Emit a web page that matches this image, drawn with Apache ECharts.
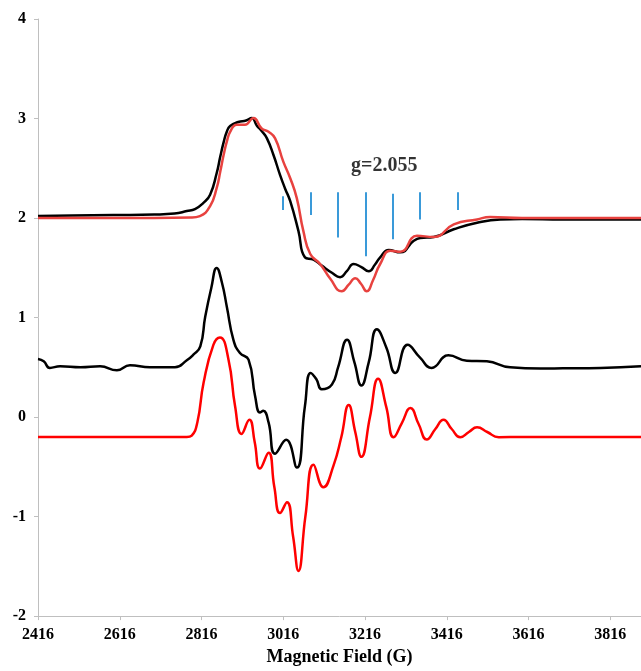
<!DOCTYPE html>
<html>
<head>
<meta charset="utf-8">
<script src="https://cdn.jsdelivr.net/npm/echarts@6/dist/echarts.min.js"></script>
<style>html,body{margin:0;padding:0;background:#fff}#c{width:641px;height:671px}</style>
</head>
<body>
<div id="c"></div>
<script>
// Top experimental (black)
var expTopX = [2416, 2500, 2600, 2700, 2750, 2780, 2800, 2820, 2837, 2853, 2862, 2870, 2878, 2886, 2906, 2925, 2939, 2951, 2964, 2976, 2992, 3008, 3020, 3033, 3053, 3069, 3090, 3110, 3135, 3155, 3172, 3188, 3206, 3225, 3240, 3253, 3274, 3302, 3335, 3351, 3384, 3433, 3490, 3547, 3600, 3700, 3800, 3891];
var expTopY = [2.02, 2.025, 2.03, 2.035, 2.045, 2.07, 2.09, 2.15, 2.235, 2.45, 2.62, 2.76, 2.87, 2.925, 2.965, 2.98, 3.005, 2.931, 2.87, 2.80, 2.633, 2.434, 2.30, 2.169, 1.871, 1.605, 1.582, 1.522, 1.45, 1.406, 1.47, 1.538, 1.51, 1.466, 1.53, 1.605, 1.678, 1.655, 1.771, 1.80, 1.81, 1.887, 1.953, 1.986, 1.99, 1.985, 1.985, 1.985];
// Top simulated (red)
var simTopX = [2416, 2700, 2790, 2812, 2837, 2853, 2862, 2870, 2878, 2886, 2902, 2922, 2943, 2963, 2980, 2996, 3016, 3033, 3049, 3065, 3082, 3106, 3131, 3159, 3176, 3192, 3206, 3220, 3236, 3253, 3278, 3302, 3343, 3384, 3433, 3490, 3522, 3600, 3891];
var simTopY = [2.0, 2.0, 2.005, 2.02, 2.12, 2.30, 2.47, 2.633, 2.77, 2.866, 2.938, 2.938, 3.005, 2.90, 2.866, 2.80, 2.567, 2.40, 2.20, 1.871, 1.638, 1.538, 1.389, 1.264, 1.33, 1.396, 1.34, 1.264, 1.38, 1.538, 1.672, 1.661, 1.821, 1.81, 1.936, 1.986, 2.01, 2.0, 2.0];
// Middle experimental (black)
var expMidX = [2416, 2430, 2445, 2470, 2520, 2568, 2609, 2641, 2690, 2751, 2780, 2796, 2813, 2825, 2840, 2853, 2866, 2878, 2894, 2910, 2931, 2947, 2959, 2967, 2980, 2996, 3023, 3049, 3069, 3083, 3097, 3110, 3135, 3150, 3172, 3190, 3207, 3225, 3245, 3268, 3290, 3320, 3350, 3379, 3420, 3465, 3514, 3571, 3645, 3700, 3792, 3891];
var expMidY = [0.583, 0.56, 0.494, 0.51, 0.50, 0.51, 0.47, 0.52, 0.50, 0.50, 0.57, 0.627, 0.71, 1.008, 1.3, 1.499, 1.35, 1.107, 0.776, 0.643, 0.577, 0.212, 0.046, 0.063, -0.054, -0.368, -0.229, -0.508, 0.112, 0.444, 0.38, 0.279, 0.328, 0.5, 0.776, 0.55, 0.318, 0.55, 0.882, 0.7, 0.444, 0.726, 0.6, 0.494, 0.62, 0.567, 0.56, 0.50, 0.488, 0.49, 0.494, 0.51];
// Bottom simulated (red)
var simBotX = [2416, 2700, 2780, 2792, 2806, 2821, 2845, 2861, 2882, 2898, 2914, 2933, 2946, 2959, 2980, 2994, 3008, 3025, 3040, 3053, 3070, 3090, 3114, 3139, 3158, 3176, 3192, 3207, 3228, 3248, 3268, 3286, 3306, 3327, 3347, 3367, 3388, 3408, 3428, 3449, 3470, 3490, 3515, 3543, 3600, 3891];
var simBotY = [-0.2, -0.2, -0.2, -0.186, -0.05, 0.344, 0.726, 0.80, 0.577, 0.112, -0.169, -0.027, -0.25, -0.517, -0.358, -0.7, -0.965, -0.856, -1.2, -1.546, -1.0, -0.478, -0.706, -0.485, -0.2, 0.12, -0.15, -0.40, 0.0, 0.384, 0.1, -0.203, -0.06, 0.09, -0.07, -0.226, -0.12, -0.027, -0.12, -0.203, -0.15, -0.103, -0.15, -0.203, -0.2, -0.2];
// Hyperfine stick pattern
var stickX = [3015, 3083, 3150, 3218, 3284, 3351, 3443];
var stickTop = [2.22, 2.26, 2.26, 2.26, 2.245, 2.26, 2.26];
var stickBottom = [2.08, 2.03, 1.804, 1.615, 1.787, 1.986, 2.08];
// Annotation
var gLabel = 'g=2.055';
var gPos = [3263, 2.52];
// Axes
var xMin = 2416, xMax = 3891, xStep = 200;
var yMin = -2, yMax = 4, yStep = 1;

function zip(a, b) { return a.map(function (v, i) { return [v, b[i]]; }); }

var font = 'Liberation Serif';
var chart = echarts.init(document.getElementById('c'));
chart.setOption({
  animation: false,
  backgroundColor: '#fff',
  grid: { left: 38, top: 19, right: 0, bottom: 49 },
  xAxis: {
    type: 'value', min: xMin, max: xMax, interval: xStep,
    name: 'Magnetic Field (G)', nameLocation: 'middle', nameGap: 28,
    nameTextStyle: { fontFamily: font, fontWeight: 'bold', fontSize: 18, color: '#000' },
    axisLine: { onZero: false, lineStyle: { color: '#bfbfbf', width: 1 } },
    axisTick: { show: true, inside: false, length: 4, lineStyle: { color: '#bfbfbf' } },
    axisLabel: { fontFamily: font, fontWeight: 'bold', fontSize: 16, color: '#000', margin: 11, showMaxLabel: false,
      formatter: function (v) { return String(v); } },
    splitLine: { show: false }
  },
  yAxis: {
    type: 'value', min: yMin, max: yMax, interval: yStep,
    axisLine: { show: true, onZero: false, lineStyle: { color: '#bfbfbf', width: 1 } },
    axisTick: { show: true, inside: false, length: 4, lineStyle: { color: '#bfbfbf' } },
    axisLabel: { fontFamily: font, fontWeight: 'bold', fontSize: 16, color: '#000', margin: 12 },
    splitLine: { show: false }
  },
  series: [
    { type: 'line', data: zip(expTopX, expTopY), smooth: 0.5, showSymbol: false, lineStyle: { color: '#000', width: 2.5 } },
    { type: 'line', data: zip(simTopX, simTopY), smooth: 0.5, showSymbol: false, lineStyle: { color: '#e8423f', width: 2.5 } },
    { type: 'line', data: zip(expMidX, expMidY), smooth: 0.5, showSymbol: false, lineStyle: { color: '#000', width: 2.5 } },
    { type: 'line', data: zip(simBotX, simBotY), smooth: 0.5, showSymbol: false, lineStyle: { color: '#ff0000', width: 2.5 } },
    {
      type: 'lines', coordinateSystem: 'cartesian2d',
      lineStyle: { color: '#3a9ad9', width: 2, opacity: 1 },
      data: stickX.map(function (x, i) { return { coords: [[x, stickTop[i]], [x, stickBottom[i]]] }; })
    },
    {
      type: 'scatter', symbolSize: 0, data: [gPos],
      label: { show: true, formatter: gLabel, position: 'inside', fontFamily: font, fontWeight: 'bold', fontSize: 20, color: '#000' }
    }
  ]
});
</script>
</body>
</html>
